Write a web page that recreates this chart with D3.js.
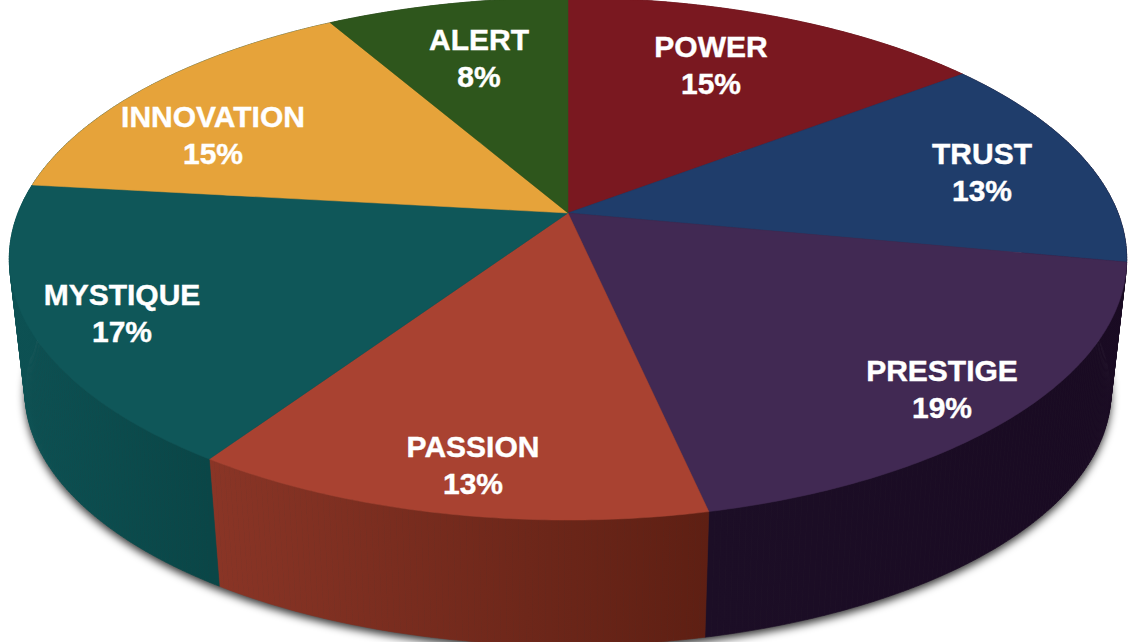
<!DOCTYPE html>
<html>
<head>
<meta charset="utf-8">
<script src="https://cdn.jsdelivr.net/npm/d3@7"></script>
<style>
  html, body { margin: 0; padding: 0; background: #fff; overflow: hidden; }
  svg { display: block; }
  .slice-label { font-family: "Liberation Sans", Arial, sans-serif; font-weight: 700; font-size: 30px; fill: #fff; stroke: #fff; stroke-width: 0.4; text-anchor: middle; }
</style>
</head>
<body>
<svg id="chart" width="1129" height="642"></svg>
<script>
// values, printed labels are these rounded
const categories = ["POWER", "TRUST", "PRESTIGE", "PASSION", "MYSTIQUE", "INNOVATION", "ALERT"];
const shares = [14.6, 13.4, 18.6, 12.8, 17.4, 14.9, 8.3];
const topColors = ["#7a1820", "#1f3d6b", "#412953", "#a94231", "#0f5759", "#e6a33a", "#2e561c"];
const sideStart = ["#5a1117", "#1c0e26", "#1c0e26", "#8a3526", "#0c5052", "#0c5052", "#1f3b13"];
const sideEnd = ["#5a1117", "#190a22", "#190a22", "#5e1f13", "#0a4647", "#0c5052", "#1f3b13"];

// layout
const width = 1129, height = 642;
const apex = { x: 568, y: 213 };
const rx = 550, ry = 253, tilt = 0.176; // disc seen in perspective
const depth = 134, floorScale = 0.972;
const labelAt = {
  POWER: [711, 57], TRUST: [982, 164], PRESTIGE: [942, 381], PASSION: [473, 457],
  MYSTIQUE: [122, 305], INNOVATION: [213, 127], ALERT: [479, 50]
};
const lineGap = 37;

function project(angle, r = 1) {
  const X = r * Math.sin(angle), Y = -r * Math.cos(angle);
  const w = 1 - tilt * Y;
  return [apex.x + rx * X / w, apex.y + ry * Y / w];
}

function projectFloor(angle) {
  const [x, y] = project(angle);
  return [apex.x + (x - apex.x) * floorScale, apex.y + (y - apex.y) * floorScale + depth];
}

function arcAngles(a0, a1) {
  const steps = Math.ceil((a1 - a0) / 0.01);
  return d3.range(steps + 1).map(i => a0 + (a1 - a0) * i / steps);
}

const pie = d3.pie().sort(null).value(d => d);
const slices = pie(shares).map((d, i) => ({ ...d, name: categories[i], i }));
const line = d3.line().curve(d3.curveLinearClosed);

const svg = d3.select("#chart");
const defs = svg.append("defs");

const shadow = defs.append("filter").attr("id", "pie-shadow")
  .attr("x", "-5%").attr("y", "-5%").attr("width", "110%").attr("height", "115%");
shadow.append("feGaussianBlur").attr("stdDeviation", 4);

slices.forEach(d => {
  const xs = [project(d.startAngle)[0], project(d.endAngle)[0]];
  const grad = defs.append("linearGradient")
    .attr("id", `side-${d.i}`)
    .attr("gradientUnits", "userSpaceOnUse")
    .attr("x1", d3.min(xs)).attr("x2", d3.max(xs))
    .attr("y1", 0).attr("y2", 0);
  grad.append("stop").attr("offset", 0).attr("stop-color", sideStart[d.i]);
  grad.append("stop").attr("offset", 1).attr("stop-color", sideEnd[d.i]);
});

// only the lower rim throws a shadow, the top edge of the disc stays clean
svg.append("path")
  .attr("d", line(arcAngles(0, 2 * Math.PI).map(projectFloor)))
  .attr("transform", "translate(0,4)")
  .attr("fill", "#000")
  .attr("fill-opacity", 0.8)
  .attr("filter", "url(#pie-shadow)");

// side wall as thin quads so the silhouette follows the tangent between the two rims,
// one path each because the winding flips at the tangent.
// the top surface covers the part that faces away
svg.append("g")
  .selectAll("g")
  .data(slices)
  .join("g")
  .attr("fill", d => `url(#side-${d.i})`)
  .attr("stroke", d => `url(#side-${d.i})`)
  .attr("stroke-width", 0.6)
  .selectAll("path")
  .data(d => d3.pairs(arcAngles(d.startAngle, d.endAngle)))
  .join("path")
  .attr("d", ([a, b]) => line([project(a), project(b), projectFloor(b), projectFloor(a)]));

svg.append("g")
  .selectAll("path")
  .data(slices)
  .join("path")
  .attr("d", d => line([[apex.x, apex.y], ...arcAngles(d.startAngle, d.endAngle).map(a => project(a))]))
  .attr("fill", d => topColors[d.i])
  .attr("stroke", d => topColors[d.i])
  .attr("stroke-width", 0.5);

const labels = svg.append("g")
  .selectAll("text")
  .data(slices)
  .join("text")
  .attr("class", "slice-label")
  .attr("transform", d => `translate(${labelAt[d.name]})`);

labels.append("tspan").attr("x", 0).attr("y", 0).text(d => d.name);
labels.append("tspan").attr("x", 0).attr("y", lineGap).text(d => `${Math.round(d.value)}%`);
</script>
</body>
</html>
